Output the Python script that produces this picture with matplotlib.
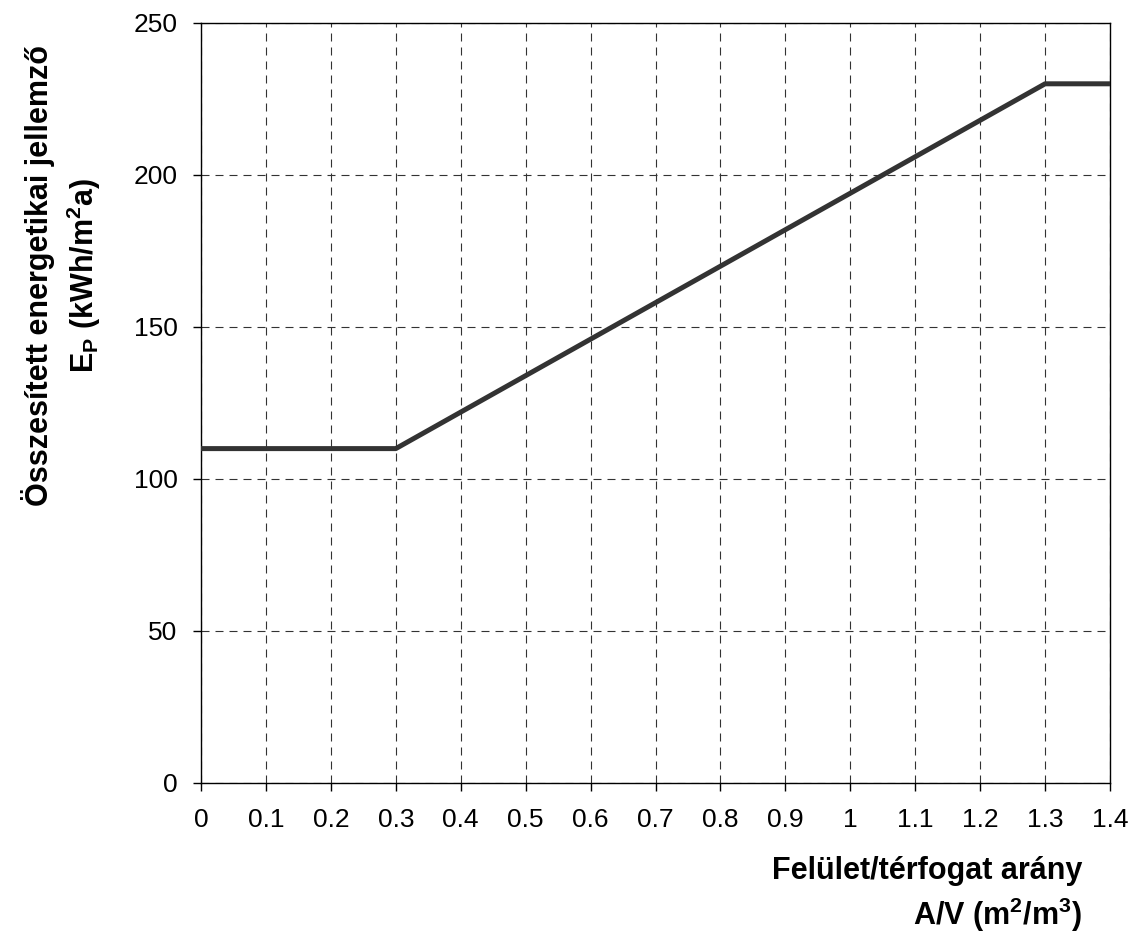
import matplotlib.pyplot as plt
import numpy as np

# adatok
av_ratio = [0, 0.3, 1.3, 1.4]
ep_values = [110, 110, 230, 230]
x_ticks = [0, 0.1, 0.2, 0.3, 0.4, 0.5, 0.6, 0.7, 0.8, 0.9, 1.0, 1.1, 1.2, 1.3, 1.4]
x_tick_labels = ["0", "0.1", "0.2", "0.3", "0.4", "0.5", "0.6", "0.7", "0.8", "0.9",
                 "1", "1.1", "1.2", "1.3", "1.4"]
y_ticks = [0, 50, 100, 150, 200, 250]

plt.rcParams["font.family"] = ["Liberation Sans", "DejaVu Sans"]
plt.rcParams["mathtext.fontset"] = "custom"
plt.rcParams["mathtext.rm"] = "Liberation Sans:bold"
plt.rcParams["mathtext.it"] = "Liberation Sans:bold"
plt.rcParams["mathtext.bf"] = "Liberation Sans:bold"
plt.rcParams["mathtext.default"] = "rm"

fig = plt.figure(figsize=(11.36, 9.43), dpi=100)
ax = fig.add_axes([201 / 1136, 1 - 783 / 943, 909 / 1136, 760 / 943])

ax.plot(av_ratio, ep_values, color="#333333", linewidth=3.6, solid_capstyle="butt", zorder=3)

ax.set_xlim(0, 1.4)
ax.set_ylim(0, 250)
ax.set_xticks(x_ticks)
ax.set_xticklabels(x_tick_labels)
ax.set_yticks(y_ticks)
ax.tick_params(axis="both", direction="out", length=6, width=1, labelsize=19, colors="black")
ax.tick_params(axis="y", pad=11)
ax.tick_params(axis="x", pad=12)
ax.grid(True, color="#333333", linestyle=(0, (7.2, 5.4)), linewidth=0.8)

for s in ax.spines.values():
    s.set_linewidth(1.0)
    s.set_color("black")

fig.text(1082 / 1136, 1 - 895 / 943, "Felület/térfogat arány\nA/V (m$^2$/m$^3$)",
         ha="right", va="center", fontsize=22, fontweight="bold",
         multialignment="right", linespacing=1.35)

fig.text(62 / 1136, 1 - 276 / 943, "Összesített energetikai jellemző\nE$_{\\mathrm{P}}$ (kWh/m$^2$a)",
         ha="center", va="center", rotation=90, fontsize=22, fontweight="bold",
         multialignment="center", linespacing=1.35)

fig.savefig("out.png", dpi=100)
